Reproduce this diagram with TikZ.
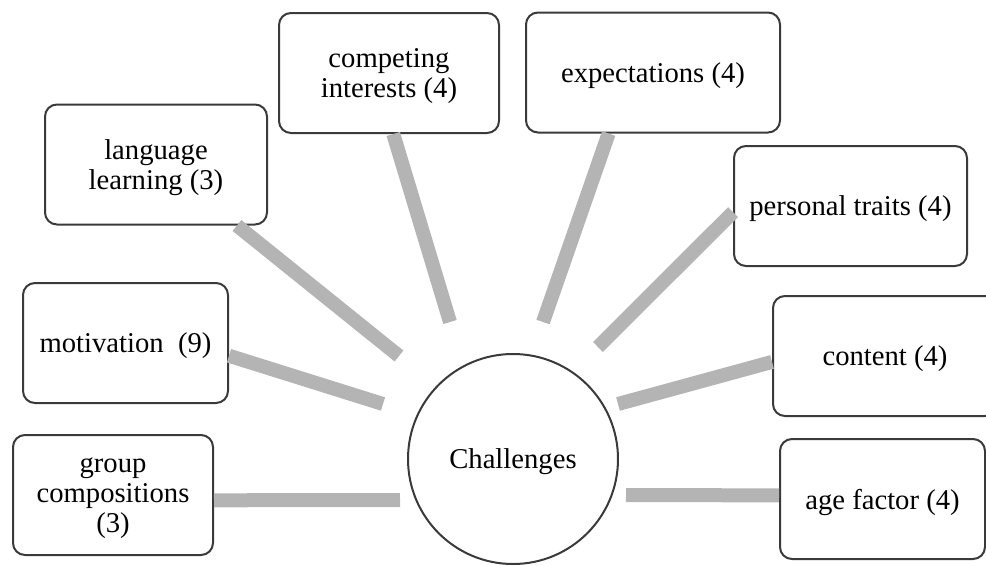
\documentclass[tikz,border=0pt]{standalone}
\usepackage{fontspec}
\setmainfont{Liberation Serif}
\definecolor{spokegray}{RGB}{180,180,180}
\definecolor{framegray}{RGB}{58,58,58}
\tikzset{
  theme/.style={draw=framegray, line width=1.5pt, rounded corners=9pt,
    align=center, inner sep=0pt, minimum height=90pt, text depth=0pt,
    font=\fontsize{21.5}{22.5}\selectfont},
  hub/.style={draw=framegray, line width=1.5pt, circle, inner sep=0pt,
    minimum size=157.5pt, text depth=0pt, font=\fontsize{21.5}{22.5}\selectfont},
  spoke/.style={draw=spokegray, line width=10.5pt}
}

\begin{document}
\begin{tikzpicture}[x=0.75pt,y=-0.75pt]
  \useasboundingbox (0,0) rectangle (986,565);
  % centre
  \node[hub] (ch) at (513,459) {Challenges};
  % themes round it
  \node[theme, minimum width=150pt] (gc) at (113,495) {group\\compositions\\(3)};
  \node[theme, minimum width=153.75pt] (mot) at (125.5,343) {motivation\ \ (9)};
  \node[theme, minimum width=166.5pt] (ll) at (156,164.5) {language\\learning (3)};
  \node[theme, minimum width=165pt] (ci) at (389,73) {competing\\interests (4)};
  \node[theme, minimum width=190.5pt] (ex) at (653,72.5) {expectations (4)};
  \node[theme, minimum width=174.75pt] (pt) at (850.5,206) {personal traits (4)};
  \node[theme, minimum width=168pt] (co) at (885,356) {content (4)};
  \node[theme, minimum width=153.75pt] (af) at (882.5,499) {age factor (4)};
  % free ends of the spokes, short of the circle
  \coordinate (gc-in) at (400,500);
  \coordinate (mot-in) at (383,404);
  \coordinate (ll-in) at (399,356);
  \coordinate (ci-in) at (450,322);
  \coordinate (ex-in) at (543,322);
  \coordinate (pt-in) at (598,347);
  \coordinate (co-in) at (618,404);
  \coordinate (af-in) at (626,495);
  % spokes
  \draw[spoke] (gc.-3) -- (gc-in);
  \draw[spoke] (mot.-7) -- (mot-in);
  \draw[spoke] (ll.-37) -- (ll-in);
  \draw[spoke] (ci.-86) -- (ci-in);
  \draw[spoke] (ex.-126) -- (ex-in);
  \draw[spoke] (pt.-177) -- (pt-in);
  \draw[spoke] (co.-177) -- (co-in);
  \draw[spoke] (af.178) -- (af-in);
\end{tikzpicture}
\end{document}
